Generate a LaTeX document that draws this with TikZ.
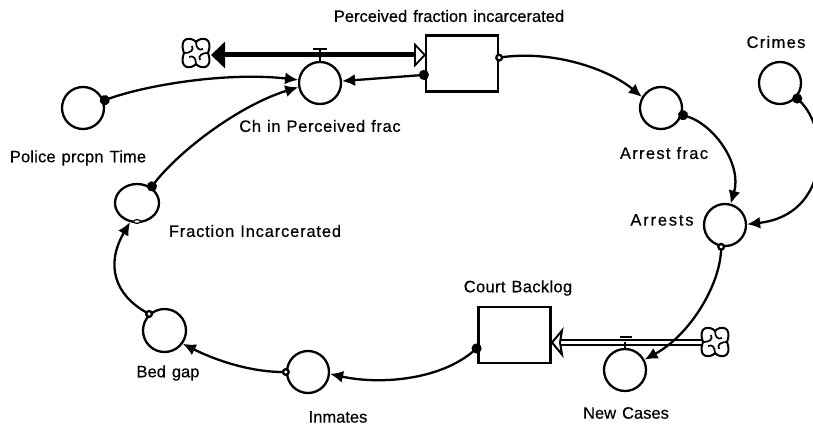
\documentclass[tikz,border=0pt]{standalone}
\usepackage{fontspec}
\setmainfont[FakeBold=0.5]{Liberation Sans}
\usetikzlibrary{arrows.meta,calc,shapes.geometric}
\newcommand{\ls}[1]{\addfontfeature{LetterSpace=#1}}
\tikzset{
  aux/.style={circle,draw,line width=2.3pt,inner sep=0pt,minimum size=42pt,fill=white},
  stock/.style={rectangle,draw,line width=2.3pt,inner sep=0pt,minimum width=72pt,minimum height=56pt,fill=white},
  lbl/.style={inner sep=0pt,font=\fontsize{16.5}{18}\selectfont,execute at begin node={\spaceskip=6pt plus 1pt\relax}},
  link/.style={line width=2.3pt,shorten <=-4pt},
  dotlink/.style={link,{Circle[length=10pt,width=10pt]}-{Latex[length=13pt,width=12pt]}},
  opendot/.style={link,{Circle[length=8pt,width=8pt,fill=white]}-{Latex[length=13pt,width=12pt]}},
  cloudshape/.style={line width=2pt,fill=white},
  valve/.style={line width=2pt}
}
\newcommand{\flowcloud}[1]{%
  \begin{scope}[shift={(#1)}]
    \draw[cloudshape] (0,-11) .. controls (4,-16) and (18,-17) .. (12,0) .. controls (18,17) and (4,16) .. (0,11) .. controls (-4,16) and (-18,17) .. (-12,0) .. controls (-18,-17) and (-4,-16) .. cycle;
    \draw[line width=1.7pt] (0,-11) .. controls (0,-5) and (3,-2) .. (7,-4);
    \draw[line width=1.7pt] (12,0) .. controls (5,0) and (2,3) .. (4,7);
    \draw[line width=1.7pt] (0,11) .. controls (0,5) and (-3,2) .. (-7,4);
    \draw[line width=1.7pt] (-12,0) .. controls (-5,0) and (-2,-3) .. (-4,-7);
  \end{scope}}
\begin{document}
\begin{tikzpicture}[x=1pt,y=-1pt]
\useasboundingbox (0,0) rectangle (813,425);
% flows
\coordinate (ctop) at (196,53);
\coordinate (cbot) at (715,342);
\coordinate (ftopL) at (211,55);
\coordinate (ftopR) at (426,55);
\coordinate (fbotL) at (552,342.5);
\coordinate (fbotR) at (705,342.5);
\draw[line width=5pt,{Triangle[length=14pt,width=26pt]}-{Triangle[open,fill=white,length=12pt,width=25pt,line width=1.8pt]}] (ftopL) -- (ftopR);
\draw[double=white,double distance=3pt,line width=2.4pt] (fbotR) -- ($(fbotL)+(8,0)$);
\draw[line width=2pt,fill=white] (fbotL) -- ++(10,-12) -- ++(-2,12) -- ++(2,12) -- cycle;
\node[aux] (ch) at (320,83) {};
\node[aux] (police) at (83,108) {};
\node[aux,ellipse,minimum width=44pt,minimum height=38pt] (fi) at (137,203) {};
\node[aux,minimum size=43pt] (bed) at (164.5,330.5) {};
\node[aux] (inm) at (308,372) {};
\node[aux] (newc) at (625,370) {};
\node[aux] (arrests) at (725,225) {};
\node[aux] (afrac) at (661,108) {};
\node[aux] (crimes) at (780,83) {};
\node[stock] (pfi) at (462,63.5) {};
\node[stock] (court) at (514.5,335) {};
\flowcloud{ctop}
\flowcloud{cbot}
% valves
\coordinate (v1) at (320,49);
\coordinate (v2) at (626,337);
\draw[valve] (ch.north) -- (v1);
\draw[valve] ($(v1)+(-7,0)$) -- ($(v1)+(7,0)$);
\draw[valve] (newc.north) -- (625,342);
\draw[valve,line width=2.4pt] ($(v2)+(-6,0)$) -- ($(v2)+(6,0)$);
% links
\draw[dotlink] (police.20) .. controls (150,84) and (230,72) .. (ch.172);
\draw[dotlink] (fi.48) .. controls (180,150) and (240,105) .. (ch.191);
\draw[dotlink] (pfi.197) -- (ch.5);
\draw[opendot] (pfi.9) .. controls (555,50) and (610,70) .. (afrac.150);
\draw[dotlink] (afrac.-18) .. controls (715,125) and (742,165) .. (arrests.75);
\draw[dotlink] (crimes.-42) .. controls (830,130) and (830,215) .. (arrests.2);
\draw[opendot] (arrests.-100) .. controls (720,285) and (690,335) .. (newc.28);
\draw[dotlink] (court.199) .. controls (440,380) and (380,385) .. (inm.-5);
\draw[opendot] (inm.180) .. controls (250,372) and (215,360) .. (bed.-36);
\draw[opendot] (bed.133) .. controls (115,295) and (105,265) .. (fi.-110);
\draw[line width=1.2pt,fill=white] (137,221.5) ellipse (3.5pt and 1.8pt);
% labels
\node[lbl] (t1) at (449,16) {Perceived fraction incarcerated};
\node[lbl] (t2) at (320,126) {\ls{4}Ch in Perceived frac};
\node[lbl] (t3) at (776,42) {\ls{8}Crimes};
\node[lbl] (t4) at (664,153) {\ls{8}Arrest frac};
\node[lbl] (t5) at (662,220) {\ls{11}Arrests};
\node[lbl] (t6) at (518,288) {\ls{2}Court Backlog};
\node[lbl] (t7) at (626,413) {New Cases};
\node[lbl] (t8) at (338,417) {Inmates};
\node[lbl] (t9) at (168,373) {Bed gap};
\node[lbl] (t10) at (255,231) {\ls{5}Fraction Incarcerated};
\node[lbl] (t11) at (78,158) {\ls{1}Police prcpn Time};
\end{tikzpicture}
\end{document}
